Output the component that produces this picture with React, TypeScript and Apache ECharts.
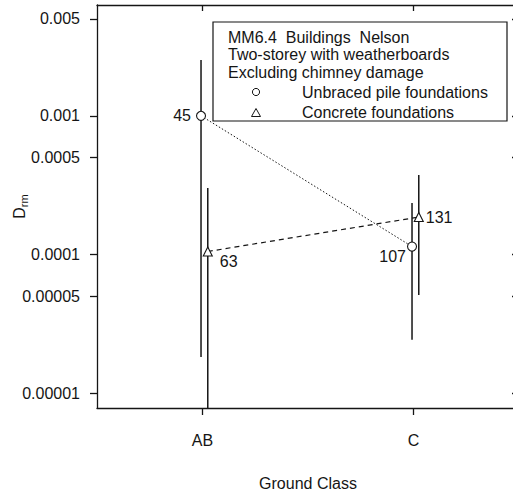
import React, { useEffect, useRef } from "react";
import * as echarts from "echarts";

const categories = ["AB", "C"];
const unbracedValues = [0.001, 0.000114];
const unbracedLow = [0.0000182, 0.0000242];
const unbracedHigh = [0.00253, 0.000235];
const unbracedCounts = [45, 107];
const concreteValues = [0.000105, 0.000186];
const concreteLow = [0.0000078, 0.000051];
const concreteHigh = [0.000302, 0.000374];
const concreteCounts = [63, 131];
const yTickValues = [0.00001, 0.00005, 0.0001, 0.0005, 0.001, 0.005];
const yTickLabels = ["0.00001", "0.00005", "0.0001", "0.0005", "0.001", "0.005"];
const titleLines = ["MM6.4  Buildings  Nelson", "Two-storey with weatherboards", "Excluding chimney damage"];
const seriesNames = ["Unbraced pile foundations", "Concrete foundations"];
const xAxisTitle = "Ground Class";

const FONT = '"Liberation Sans", Arial, Helvetica, sans-serif';
const INK = "#151515";
const X_MIN = 0.5;
const X_MAX = 2.5;
const Y_MIN = 0.0000078;
const Y_MAX = 0.0063;
const DODGE_UNBRACED = -0.007;
const DODGE_CONCRETE = 0.025;

function tickLabel(v: number): string {
  let best = 0;
  let bd = Infinity;
  yTickValues.forEach((t, i) => {
    const d = Math.abs(Math.log10(t) - Math.log10(v));
    if (d < bd) {
      bd = d;
      best = i;
    }
  });
  return yTickLabels[best];
}

const errRender = (params: any, api: any) => {
  const x = api.value(0);
  const p1 = api.coord([x, api.value(1)]);
  const p2 = api.coord([x, api.value(2)]);
  return {
    type: "line",
    shape: { x1: p1[0], y1: p1[1], x2: p2[0], y2: p2[1] },
    style: { stroke: INK, lineWidth: 1.5 },
  };
};

export default function App() {
  const ref = useRef<HTMLDivElement>(null);
  useEffect(() => {
    if (!ref.current) return;
    const chart = echarts.init(ref.current, null, { renderer: "svg" });

    const unbracedLabelPos = [
      { position: "left", distance: 5, offset: [0, 0] },
      { position: "left", distance: 3, offset: [2, 10] },
    ];
    const concreteLabelPos = [
      { position: "right", distance: 7, offset: [0, 10] },
      { position: "right", distance: 2, offset: [0, 0] },
    ];

    const unbracedData = unbracedValues.map((v, i) => ({
      value: [i + 1 + DODGE_UNBRACED, v],
      label: {
        show: true,
        formatter: String(unbracedCounts[i]),
        ...unbracedLabelPos[i],
      },
    }));
    const concreteData = concreteValues.map((v, i) => ({
      value: [i + 1 + DODGE_CONCRETE, v],
      label: {
        show: true,
        formatter: String(concreteCounts[i]),
        ...concreteLabelPos[i],
      },
    }));

    const labelStyle = { fontFamily: FONT, fontSize: 16, color: INK };

    const option: any = {
      animation: false,
      backgroundColor: "#ffffff",
      textStyle: { fontFamily: FONT },
      grid: { left: 97, top: 5, width: 422, height: 403, outerBoundsMode: "none", containLabel: false },
      xAxis: [
        {
          type: "value",
          position: "bottom",
          min: X_MIN,
          max: X_MAX,
          axisLine: { show: true, lineStyle: { color: INK, width: 1.3 } },
          axisTick: { show: true, customValues: [1, 2], length: 7, lineStyle: { color: INK, width: 1.3 } },
          axisLabel: {
            customValues: [1, 2],
            formatter: (v: number) => categories[Math.round(v) - 1] ?? "",
            margin: 24,
            ...labelStyle,
          },
          splitLine: { show: false },
          name: xAxisTitle,
          nameLocation: "middle",
          nameGap: 67,
          nameMoveOverlap: false,
          nameTextStyle: { fontFamily: FONT, fontSize: 16, color: INK },
        },
        {
          type: "value",
          position: "top",
          min: X_MIN,
          max: X_MAX,
          axisLine: { show: true, lineStyle: { color: INK, width: 1.3 } },
          axisTick: { show: true, inside: true, customValues: [1, 2], length: 6, lineStyle: { color: INK, width: 1.3 } },
          axisLabel: { show: false },
          splitLine: { show: false },
        },
      ],
      yAxis: [
        {
          type: "log",
          logBase: 10,
          position: "left",
          min: Y_MIN,
          max: Y_MAX,
          axisLine: { show: true, lineStyle: { color: INK, width: 1.3 } },
          axisTick: { show: true, customValues: yTickValues, length: 7, lineStyle: { color: INK, width: 1.3 } },
          axisLabel: {
            customValues: yTickValues,
            formatter: (v: number) => tickLabel(v),
            margin: 17,
            ...labelStyle,
          },
          splitLine: { show: false },
          minorTick: { show: false },
          name: "{d|D}{s|rm}",
          nameLocation: "middle",
          nameGap: 68,
          nameMoveOverlap: false,
          nameRotate: 90,
          nameTextStyle: {
            rich: {
              d: { fontFamily: FONT, fontSize: 16, color: INK, lineHeight: 20, verticalAlign: "middle" },
              s: { fontFamily: FONT, fontSize: 11, color: INK, lineHeight: 20, padding: [9, 0, 0, 0], verticalAlign: "middle" },
            },
          },
        },
        {
          type: "log",
          logBase: 10,
          position: "right",
          min: Y_MIN,
          max: Y_MAX,
          axisLine: { show: true, lineStyle: { color: INK, width: 1.3 } },
          axisTick: { show: true, inside: true, customValues: yTickValues, length: 7, lineStyle: { color: INK, width: 1.3 } },
          axisLabel: { show: false },
          splitLine: { show: false },
        },
      ],
      series: [
        {
          type: "custom",
          name: "unbraced-err",
          xAxisIndex: 0,
          yAxisIndex: 0,
          renderItem: errRender,
          data: unbracedValues.map((_, i) => [i + 1 + DODGE_UNBRACED, unbracedLow[i], unbracedHigh[i]]),
          encode: { x: 0, y: [1, 2] },
          clip: true,
          z: 1,
          silent: true,
        },
        {
          type: "custom",
          name: "concrete-err",
          xAxisIndex: 0,
          yAxisIndex: 0,
          renderItem: errRender,
          data: concreteValues.map((_, i) => [i + 1 + DODGE_CONCRETE, concreteLow[i], concreteHigh[i]]),
          encode: { x: 0, y: [1, 2] },
          clip: true,
          z: 1,
          silent: true,
        },
        {
          type: "line",
          name: seriesNames[0],
          xAxisIndex: 0,
          yAxisIndex: 0,
          data: unbracedData,
          symbol: "circle",
          symbolSize: 9,
          showAllSymbol: true,
          itemStyle: { color: "#ffffff", borderColor: INK, borderWidth: 1.1 },
          lineStyle: { color: INK, width: 1, type: [1.5, 2] },
          label: { ...labelStyle },
          z: 3,
        },
        {
          type: "line",
          name: seriesNames[1],
          xAxisIndex: 0,
          yAxisIndex: 0,
          data: concreteData,
          symbol: "triangle",
          symbolSize: 9,
          showAllSymbol: true,
          itemStyle: { color: "#ffffff", borderColor: INK, borderWidth: 1.1 },
          lineStyle: { color: INK, width: 1.2, type: [5, 4] },
          label: { ...labelStyle },
          z: 3,
        },
      ],
      graphic: [
        {
          type: "group",
          z: 100,
          children: [
            {
              type: "rect",
              shape: { x: 213, y: 22, width: 294, height: 99 },
              style: { fill: "#ffffff", stroke: INK, lineWidth: 1.2 },
            },
            ...titleLines.map((t, i) => ({
              type: "text",
              x: 228,
              y: 37 + i * 17.5,
              style: { text: t, fontFamily: FONT, fontSize: 16, fill: INK, verticalAlign: "middle" },
            })),
            {
              type: "circle",
              shape: { cx: 256, cy: 92, r: 3.6 },
              style: { fill: "#ffffff", stroke: INK, lineWidth: 1 },
            },
            {
              type: "polygon",
              shape: { points: [[251.5, 116.5], [260.5, 116.5], [256, 108.5]] },
              style: { fill: "#ffffff", stroke: INK, lineWidth: 1 },
            },
            ...seriesNames.map((t, i) => ({
              type: "text",
              x: 302,
              y: 92 + i * 20,
              style: { text: t, fontFamily: FONT, fontSize: 16, fill: INK, verticalAlign: "middle" },
            })),
          ],
        },
      ],
    };

    chart.setOption(option);
    return () => chart.dispose();
  }, []);

  return (
    <div
      ref={ref}
      style={{ position: "absolute", left: 0, top: 0, width: 513, height: 492, background: "#fff" }}
    />
  );
}
